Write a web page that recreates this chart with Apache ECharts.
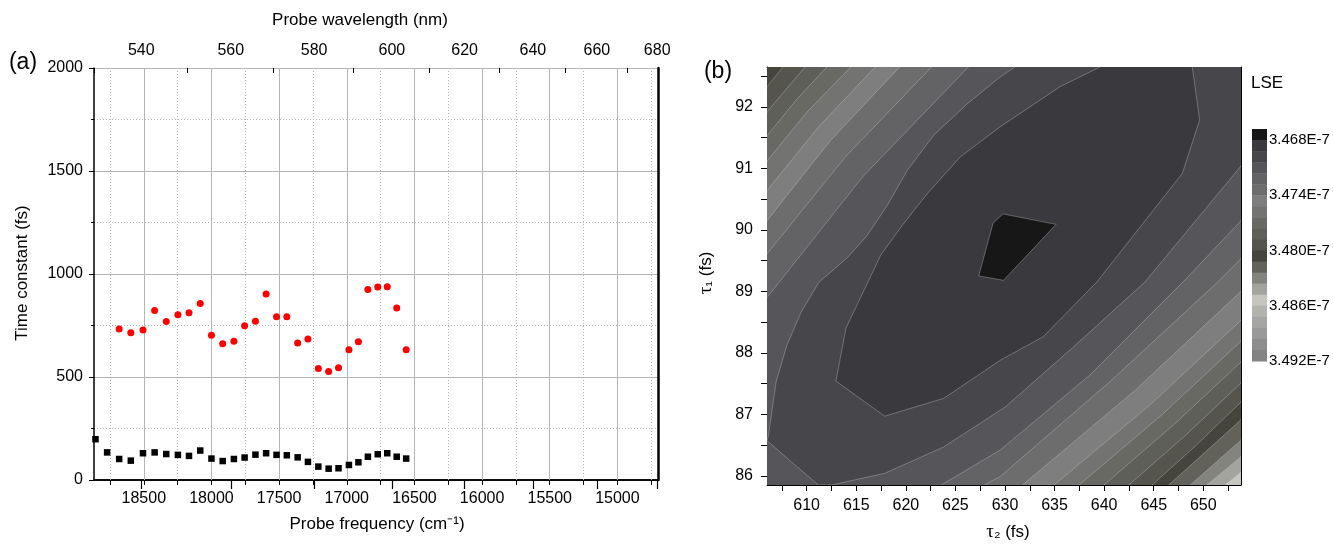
<!DOCTYPE html>
<html>
<head>
    <meta charset="utf-8">
    <title>Time constants and LSE map</title>
    <script src="https://cdn.jsdelivr.net/npm/echarts@6/dist/echarts.min.js"></script>
    <style>
        html, body { margin: 0; padding: 0; background: #fff; }
        #main { width: 1333px; height: 549px; }
    </style>
</head>
<body>
    <div id="main"></div>
    <script type="text/javascript">
        // ---------- panel (a) data ----------
        var blackFreq = [18857, 18771, 18682, 18596, 18506, 18420, 18334, 18248, 18166, 18083, 18000, 17917, 17834, 17755, 17675,
                         17596, 17519, 17443, 17363, 17287, 17210, 17134, 17061, 16984, 16914, 16844, 16771, 16701, 16631, 16561]
        var blackTau = [198, 134, 102, 94, 130, 134, 126, 122, 117, 143, 104, 92, 102, 109, 123,
                        130, 122, 120, 110, 88, 65, 55, 57, 73, 86, 113, 125, 130, 113, 104]
        var redFreq = [18682, 18596, 18506, 18420, 18334, 18248, 18166, 18083, 18000, 17917, 17834, 17755, 17675, 17596,
                       17519, 17443, 17363, 17287, 17210, 17134, 17061, 16984, 16914, 16844, 16771, 16701, 16631, 16561]
        var redTau = [733, 715, 728, 823, 770, 802, 812, 857, 703, 661, 674, 749, 771, 903,
                      793, 793, 665, 684, 541, 527, 545, 632, 671, 925, 937, 938, 835, 632]

        var freqMajor = [15000, 15500, 16000, 16500, 17000, 17500, 18000, 18500]
        var freqMinor = [14750, 15250, 15750, 16250, 16750, 17250, 17750, 18250, 18750]
        var wlMajor = [540, 560, 580, 600, 620, 640, 660, 680]
        var wlMinor = [530, 550, 570, 590, 610, 630, 650, 670]

        // ---------- panel (b) data (tau2, tau1) ----------
        var tau2Labels = [610, 615, 620, 625, 630, 635, 640, 645, 650]
        var tau2Ticks = [607.5, 610, 612.5, 615, 617.5, 620, 622.5, 625, 627.5, 630, 632.5, 635, 637.5, 640, 642.5, 645, 647.5, 650, 652.5]
        var tau1Labels = [86, 87, 88, 89, 90, 91, 92]
        var tau1Ticks = [86, 86.5, 87, 87.5, 88, 88.5, 89, 89.5, 90, 90.5, 91, 91.5, 92, 92.5]

        // LSE levels (x1E-7) and colour bar ticks
        var lseLevels = [3.4668, 3.4680, 3.4692, 3.4704, 3.4716, 3.4728, 3.4740, 3.4752, 3.4764, 3.4776, 3.4788,
                         3.4800, 3.4812, 3.4824, 3.4836, 3.4848, 3.4860, 3.4872, 3.4884, 3.4896, 3.4908, 3.4920]
        var lseTicks = [3.468, 3.474, 3.480, 3.486, 3.492]

        // contour lines
        var contour1 = [[629.8, 90.26], [635.15, 90.09], [629.86, 89.18], [627.35, 89.25], [628.8, 90.11]]
        var contour2 = [[639.58, 92.65], [635.56, 92.33], [629.53, 91.68], [625.51, 91.19], [622.16, 90.59], [619.53, 90.05],
                        [617.47, 89.59], [613.96, 88.40], [612.95, 87.54], [617.87, 86.97], [623.83, 87.26], [629.53, 87.88],
                        [633.85, 88.26], [639.25, 89.15], [647.89, 90.92], [649.63, 91.79], [648.89, 92.65]]
        var contour3 = [[631.00, 92.65], [629.53, 92.49], [626.18, 92.05], [622.82, 91.54], [620.15, 90.97], [618.14, 90.40],
                        [616.06, 89.90], [614.05, 89.54], [611.24, 89.15], [609.43, 88.66], [608.02, 88.13], [606.92, 87.53],
                        [606.14, 86.65], [606.0, 86.57], [611.17, 85.85], [612.51, 85.85], [617.87, 86.04], [623.83, 86.47],
                        [630.03, 87.12], [636.86, 88.09], [644.10, 89.15], [649.13, 90.13], [653.8, 91.04]]
        // levels 4..11, upper-left corner (top edge -> left edge)
        var upperLeftArcs = [
            [[626.31, 92.65], [615.63, 90.86], [606, 88.90]],
            [[622.59, 92.65], [613.92, 91.19], [606, 89.61]],
            [[619.38, 92.65], [612.38, 91.45], [606, 90.15]],
            [[616.91, 92.65], [611.22, 91.68], [606, 90.64]],
            [[614.45, 92.65], [610.05, 91.92], [606, 91.12]],
            [[612.04, 92.65], [608.92, 92.11], [606, 91.53]],
            [[609.83, 92.65], [606, 91.92]],
            [[607.61, 92.65], [606, 92.33]]
        ]
        // levels 4..15, lower-right corner (bottom edge -> right edge)
        var lowerRightArcs = [
            [[623.57, 85.85], [629.53, 86.42], [638.57, 87.64], [648.12, 89.18], [653.8, 90.15]],
            [[627.92, 85.85], [629.53, 85.99], [640.58, 87.53], [651.64, 89.18], [653.8, 89.53]],
            [[631.77, 85.85], [643.05, 87.38], [653.8, 89.00]],
            [[634.95, 85.85], [644.60, 87.15], [653.8, 88.53]],
            [[637.47, 85.85], [645.81, 86.99], [653.8, 88.19]],
            [[639.98, 85.85], [647.01, 86.83], [653.8, 87.85]],
            [[642.49, 85.85], [648.22, 86.66], [653.8, 87.51]],
            [[644.83, 85.85], [649.38, 86.51], [653.8, 87.20]],
            [[646.51, 85.85], [653.8, 86.91]],
            [[648.69, 85.85], [653.8, 86.58]],
            [[650.36, 85.85], [653.8, 86.31]],
            [[652.21, 85.85], [653.8, 86.06]]
        ]

        var bandColors = ['#171717', '#3a3a3e', '#47474b', '#56565a', '#636365', '#6d6d6e', '#7e7e7e', '#737371',
                          '#696964', '#5f5f59', '#55554e', '#45453d', '#62625b', '#84847e', '#a4a49e', '#c6c6be',
                          '#b3b3ae', '#a5a5a3', '#999999', '#8d8d8d', '#838383']

        // build filled regions, biggest first
        var OUT_TL = [590, 100], OUT_BL = [590, 80], OUT_TR = [670, 100]
        var regions = []
        regions.push({ pts: [[590, 80], [590, 100], [670, 100], [670, 80]], color: bandColors[15], line: false })
        for (var k = 15; k >= 4; k--) {
            var ul = upperLeftArcs[k - 4]
            var lr = lowerRightArcs[k - 4]
            regions.push({ pts: (ul ? ul : [OUT_TL]).concat([OUT_BL], lr, [OUT_TR]), color: bandColors[k - 1], line: true })
        }
        regions.push({ pts: contour3.concat([OUT_TR]), color: bandColors[2], line: true })
        regions.push({ pts: contour2.concat([[644.2, 94]]), color: bandColors[1], line: true })
        regions.push({ pts: contour1, color: bandColors[0], line: true })

        var FONT = 'Liberation Sans'
        var freqTicks = freqMajor.concat(freqMinor)
        function toFreq(w) { return 1e7 / w }
        function plain(v) { return String(v) }

        var gridMarks = []
        freqMajor.forEach(function (v) { gridMarks.push({ xAxis: v, lineStyle: { type: 'solid' } }) })
        freqMinor.forEach(function (v) { gridMarks.push({ xAxis: v, lineStyle: { type: [1, 2] } }) })

        var myChart = echarts.init(document.getElementById('main'))
        var option = {
            animation: false,
            textStyle: { fontFamily: FONT },
            grid: [
                { left: 94, top: 68, width: 564, height: 412 },
                { left: 767, top: 67, width: 474, height: 418 },
                { left: 1252, top: 129, width: 15, height: 232 }
            ],
            xAxis: [
                {   // probe frequency
                    type: 'value', gridIndex: 0, min: 14700, max: 18868, inverse: true, position: 'bottom',
                    axisLine: { lineStyle: { color: '#000', width: 1.5 } },
                    axisTick: { customValues: freqTicks, length: 5, lineStyle: { color: '#000' } },
                    axisLabel: { customValues: freqMajor, fontSize: 16, color: '#000', margin: 11, formatter: plain },
                    splitLine: { show: false }
                },
                {   // wavelength major
                    type: 'value', gridIndex: 0, min: 14700, max: 18868, inverse: true, position: 'top',
                    axisLine: { lineStyle: { color: '#000', width: 1.5 } },
                    axisTick: { customValues: wlMajor.map(toFreq), inside: true, length: 9, lineStyle: { color: '#000', width: 1.2 } },
                    axisLabel: {
                        customValues: wlMajor.map(toFreq), fontSize: 16, color: '#000', margin: 9,
                        formatter: function (v) { return String(Math.round(1e7 / v)) }
                    },
                    splitLine: { show: false }
                },
                {   // wavelength minor
                    type: 'value', gridIndex: 0, min: 14700, max: 18868, inverse: true, position: 'top',
                    axisLine: { show: false },
                    axisTick: { customValues: wlMinor.map(toFreq), inside: true, length: 5, lineStyle: { color: '#000' } },
                    axisLabel: { show: false },
                    splitLine: { show: false }
                },
                {   // tau2
                    type: 'value', gridIndex: 1, min: 606, max: 653.8,
                    axisLine: { lineStyle: { color: '#000', width: 1 } },
                    axisTick: { customValues: tau2Ticks, length: 6, lineStyle: { color: '#000' } },
                    axisLabel: { customValues: tau2Labels, fontSize: 16, color: '#000', margin: 13, formatter: plain },
                    splitLine: { show: false }
                },
                {
                    type: 'value', gridIndex: 1, min: 606, max: 653.8, position: 'top',
                    axisLine: { lineStyle: { color: '#000', width: 1 } },
                    axisTick: { show: false }, axisLabel: { show: false }, splitLine: { show: false }
                },
                { type: 'value', gridIndex: 2, min: 0, max: 1, show: false }
            ],
            yAxis: [
                {
                    type: 'value', gridIndex: 0, min: 0, max: 2000, interval: 500,
                    axisLine: { show: true, lineStyle: { color: '#000', width: 1.5 } },
                    axisTick: { show: true, length: 5, lineStyle: { color: '#000' } },
                    minorTick: { show: true, splitNumber: 2, length: 3, lineStyle: { color: '#000' } },
                    axisLabel: { fontSize: 16, color: '#000', margin: 11, formatter: plain },
                    splitLine: { show: true, lineStyle: { color: '#b5b5b5', width: 1 } },
                    minorSplitLine: { show: true, lineStyle: { color: '#b5b5b5', width: 1, type: [1, 2] } }
                },
                {
                    type: 'value', gridIndex: 0, min: 0, max: 2000, position: 'right',
                    axisLine: { show: true, lineStyle: { color: '#000', width: 2.5 } },
                    axisTick: { show: false }, axisLabel: { show: false }, splitLine: { show: false }
                },
                {   // tau1
                    type: 'value', gridIndex: 1, min: 85.85, max: 92.65,
                    axisLine: { show: true, lineStyle: { color: '#000', width: 1 } },
                    axisTick: { show: true, customValues: tau1Ticks, length: 6, lineStyle: { color: '#000' } },
                    axisLabel: { customValues: tau1Labels, fontSize: 16, color: '#000', margin: 14, formatter: plain },
                    splitLine: { show: false }
                },
                {
                    type: 'value', gridIndex: 1, min: 85.85, max: 92.65, position: 'right',
                    axisLine: { show: true, lineStyle: { color: '#000', width: 1 } },
                    axisTick: { show: false }, axisLabel: { show: false }, splitLine: { show: false }
                },
                {   // colour bar
                    type: 'value', gridIndex: 2, min: 3.4668, max: 3.4920, inverse: true, position: 'right',
                    axisLine: { show: false }, axisTick: { show: false }, splitLine: { show: false },
                    axisLabel: {
                        customValues: lseTicks, fontSize: 15, color: '#000', margin: 2,
                        formatter: function (v) { return v.toFixed(3) + 'E-7' }
                    }
                }
            ],
            series: [
                {
                    name: 'fast', type: 'scatter', xAxisIndex: 0, yAxisIndex: 0, clip: true, z: 3,
                    symbol: 'rect', symbolSize: 6.5, itemStyle: { color: '#000', opacity: 1 },
                    data: blackFreq.map(function (f, i) { return [f, blackTau[i]] }),
                    markLine: {
                        silent: true, z: 1, symbol: ['none', 'none'], label: { show: false },
                        lineStyle: { color: '#b5b5b5', width: 1 },
                        data: gridMarks
                    }
                },
                {
                    name: 'slow', type: 'scatter', xAxisIndex: 0, yAxisIndex: 0, clip: true, z: 3,
                    symbol: 'circle', symbolSize: 7, itemStyle: { color: '#ff0000', opacity: 1 },
                    data: redFreq.map(function (f, i) { return [f, redTau[i]] })
                },
                {
                    name: 'LSE', type: 'custom', xAxisIndex: 3, yAxisIndex: 2, clip: true, silent: true,
                    data: regions.map(function (r, i) { return [630, 89, i] }),
                    renderItem: function (params, api) {
                        var r = regions[params.dataIndex]
                        return {
                            type: 'polygon',
                            shape: { points: r.pts.map(function (p) { return api.coord(p) }) },
                            style: {
                                fill: r.color,
                                stroke: r.line ? 'rgba(205,205,205,0.6)' : null,
                                lineWidth: 0.6
                            }
                        }
                    }
                },
                {
                    name: 'bar', type: 'custom', xAxisIndex: 5, yAxisIndex: 4, silent: true,
                    data: bandColors.map(function (c, i) { return [0.5, lseLevels[i], i] }),
                    renderItem: function (params, api) {
                        var i = params.dataIndex
                        var a = api.coord([0, lseLevels[i]])
                        var b = api.coord([1, lseLevels[i + 1]])
                        return {
                            type: 'rect',
                            shape: { x: a[0], y: a[1], width: b[0] - a[0], height: b[1] - a[1] + 0.5 },
                            style: { fill: bandColors[i] }
                        }
                    }
                }
            ],
            graphic: [
                { type: 'text', x: 23, y: 63, style: { text: '(a)', font: '23px ' + FONT, fill: '#000', align: 'center', verticalAlign: 'middle' } },
                { type: 'text', x: 360, y: 20, style: { text: 'Probe wavelength (nm)', font: '17px ' + FONT, fill: '#000', align: 'center', verticalAlign: 'middle' } },
                { type: 'text', x: 22, y: 273, rotation: Math.PI / 2, style: { text: 'Time constant (fs)', font: '17px ' + FONT, fill: '#000', align: 'center', verticalAlign: 'middle' } },
                { type: 'text', x: 377, y: 524, style: { text: 'Probe frequency (cm⁻¹)', font: '17px ' + FONT, fill: '#000', align: 'center', verticalAlign: 'middle' } },
                { type: 'text', x: 718, y: 72, style: { text: '(b)', font: '23px ' + FONT, fill: '#000', align: 'center', verticalAlign: 'middle' } },
                { type: 'text', x: 1267, y: 83, style: { text: 'LSE', font: '17px ' + FONT, fill: '#000', align: 'center', verticalAlign: 'middle' } },
                {
                    type: 'text', x: 1008, y: 532,
                    style: {
                        text: '{g|τ}{n|₂ (fs)}', align: 'center', verticalAlign: 'middle', fill: '#000',
                        rich: { g: { fontFamily: 'Liberation Serif', fontSize: 19 }, n: { fontFamily: FONT, fontSize: 17 } }
                    }
                },
                {
                    type: 'text', x: 706, y: 273, rotation: Math.PI / 2,
                    style: {
                        text: '{g|τ}{n|₁ (fs)}', align: 'center', verticalAlign: 'middle', fill: '#000',
                        rich: { g: { fontFamily: 'Liberation Serif', fontSize: 19 }, n: { fontFamily: FONT, fontSize: 17 } }
                    }
                }
            ]
        }
        myChart.setOption(option)
    </script>
</body>
</html>
